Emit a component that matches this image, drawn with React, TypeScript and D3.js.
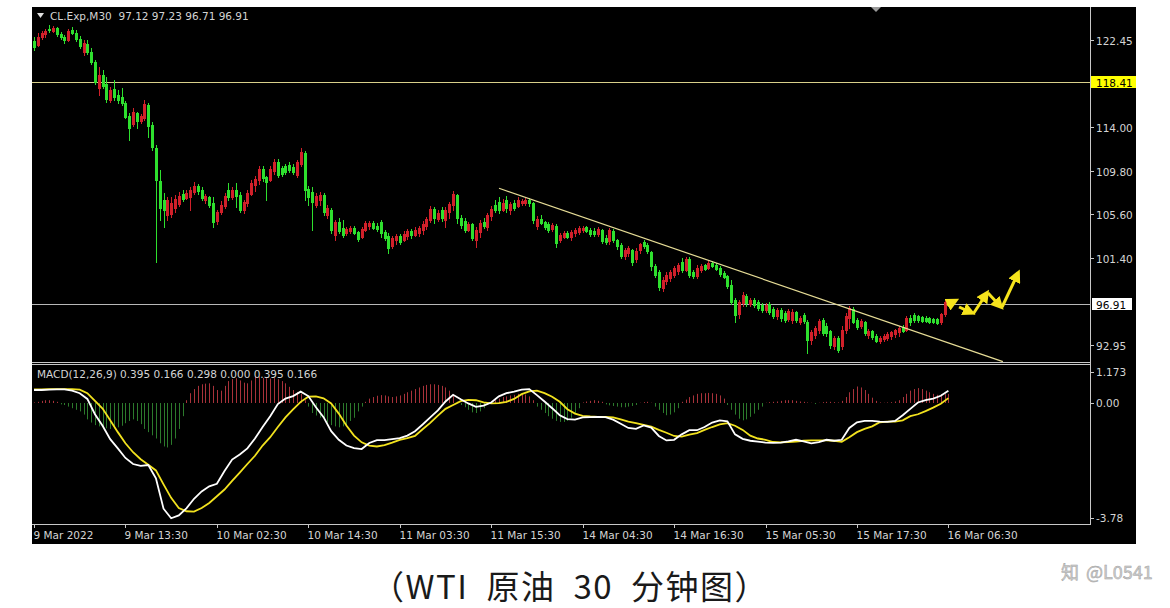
import React from 'react';
import * as d3 from 'd3';

// ---------- DATA (CL.Exp, M30) ----------
const OPEN = [
  122.35,121.97,122.74,123.03,123.51,123.32,123.61,123.03,122.74,122.45,
  123.42,123.13,122.55,121.29,122.06,121.29,120.32,117.81,119.07,118.19,
  116.65,117.71,117.13,116.94,116.36,115.10,114.33,115.39,114.62,114.91,
  116.16,114.23,112.01,108.81,106.98,105.53,105.62,106.21,106.59,107.56,
  107.17,107.27,107.75,108.33,107.94,106.98,107.27,106.69,104.95,105.82,
  106.40,107.94,107.27,107.94,107.46,106.01,106.69,107.56,108.43,108.91,
  109.98,109.20,108.91,109.78,110.65,110.07,110.26,110.36,110.17,109.39,
  110.46,111.52,108.04,107.75,106.49,106.98,107.46,105.53,106.01,103.59,
  104.85,104.27,103.79,103.98,104.27,103.88,103.40,104.08,104.46,104.75,
  104.46,104.85,103.88,103.50,102.53,103.11,103.50,103.11,103.50,103.98,
  103.59,103.79,104.08,104.46,105.04,106.11,105.14,106.01,105.04,105.82,
  106.49,107.46,105.24,104.95,104.08,104.66,103.11,103.88,104.85,104.37,
  105.43,106.49,106.78,106.01,106.98,106.01,106.69,106.40,106.69,106.69,
  106.98,106.69,104.46,105.14,104.85,104.66,104.17,104.46,103.11,103.40,
  103.79,103.40,103.79,103.88,104.08,104.37,104.08,103.98,103.69,104.08,
  103.30,103.01,103.98,103.11,102.62,101.56,101.85,102.14,101.27,102.14,
  102.91,102.62,101.95,100.59,100.01,98.47,99.14,99.43,99.72,100.11,
  100.98,100.21,101.27,100.01,99.62,100.21,100.69,100.40,100.88,100.69,
  100.40,99.91,99.62,98.76,97.31,95.95,97.02,97.69,96.92,97.31,
  97.11,96.82,96.34,96.92,96.44,95.76,96.34,96.05,95.47,95.37,
  96.15,95.18,95.86,95.18,93.44,93.92,94.40,95.37,94.79,94.31,
  92.86,93.63,92.86,94.40,95.57,96.44,95.37,94.79,95.18,93.92,
  94.31,93.82,93.34,93.53,93.63,93.82,94.02,94.21,94.69,94.40,
  95.57,95.86,95.76,95.66,95.57,95.57,95.47,95.47,95.18,95.95,
  97.12
];
const HIGH = [
  122.74,123.13,123.32,123.51,123.90,123.80,123.71,123.22,122.93,123.51,
  123.71,123.42,122.84,122.45,122.45,121.68,120.52,119.84,119.55,118.87,
  117.90,118.58,117.61,117.81,116.55,115.39,115.87,115.49,115.29,116.65,
  116.36,114.52,112.30,109.88,107.66,107.27,107.27,107.46,107.75,107.94,
  107.94,108.23,108.72,108.52,108.23,107.56,107.36,107.27,106.01,106.88,
  107.66,108.62,108.23,108.62,107.75,106.98,107.94,108.91,109.30,110.26,
  110.26,109.30,110.26,110.94,110.94,110.26,110.46,110.65,110.46,110.84,
  112.01,111.71,108.33,108.23,107.66,107.75,107.66,106.49,106.21,105.04,
  105.24,105.04,104.37,104.46,104.46,103.98,104.37,104.95,104.95,104.95,
  104.75,105.04,104.08,103.79,103.50,103.69,103.69,103.98,104.17,104.17,
  104.37,104.46,104.95,105.33,106.40,106.30,106.01,106.30,106.30,106.78,
  107.85,107.56,105.53,105.24,104.85,104.75,104.37,105.04,105.24,105.72,
  106.40,106.98,107.27,107.07,107.36,106.78,106.98,107.27,107.07,107.17,
  107.17,106.78,105.43,105.53,104.95,104.85,104.75,104.66,103.79,103.98,
  103.98,104.08,104.27,104.46,104.46,104.46,104.27,104.27,104.37,104.17,
  103.59,104.27,104.17,103.21,102.82,102.33,102.53,102.24,102.33,102.82,
  103.11,102.82,102.04,100.79,100.21,99.53,100.01,100.21,100.59,100.88,
  101.37,101.46,101.46,100.21,100.69,100.79,100.79,101.08,101.08,100.88,
  100.59,100.11,99.72,99.24,97.50,97.31,98.08,97.89,97.50,97.50,
  97.31,97.02,97.02,97.11,96.63,96.53,96.53,96.24,96.44,96.44,
  96.24,95.76,96.05,95.37,94.40,94.79,95.47,95.57,95.08,94.40,
  93.82,93.82,94.79,96.05,96.73,96.63,95.57,95.47,95.28,94.50,
  94.40,94.02,93.82,94.02,94.21,94.31,94.50,94.79,94.89,95.76,
  95.86,96.05,95.86,95.76,95.76,95.66,95.57,95.57,96.05,97.31,
  97.23
];
const LOW = [
  121.48,121.87,122.55,122.74,123.22,123.22,122.84,122.55,122.16,122.35,
  123.03,122.35,121.68,121.00,121.10,120.13,118.19,117.13,117.81,116.45,
  116.45,116.65,116.36,116.16,114.91,112.78,114.13,113.94,114.42,114.71,
  113.07,111.81,100.98,105.04,104.37,105.04,105.33,105.82,106.40,106.88,
  107.07,106.01,107.56,107.56,106.98,106.69,106.30,104.37,104.66,105.62,
  106.21,106.98,107.07,106.30,105.82,105.72,106.40,107.46,107.85,108.52,
  108.81,106.98,108.81,109.49,109.20,109.30,109.49,109.69,109.49,109.20,
  110.26,106.98,106.49,104.08,106.30,106.49,105.53,105.24,103.79,103.11,
  103.79,103.40,103.59,103.79,103.69,103.01,103.30,103.98,104.17,104.17,
  103.98,103.40,103.11,101.85,102.33,102.72,102.72,103.01,103.21,103.30,
  103.50,103.50,103.69,104.17,104.85,104.75,104.95,104.95,104.37,105.24,
  106.01,104.75,104.27,103.88,103.98,103.11,102.43,103.40,104.27,104.08,
  105.04,105.82,105.72,105.91,105.82,105.62,106.01,106.30,106.49,106.49,
  106.40,104.75,104.17,104.66,104.17,103.88,103.98,102.43,102.91,103.30,
  103.30,103.11,103.50,103.69,103.88,103.88,103.50,103.50,103.50,102.82,
  102.72,102.72,102.91,102.24,101.37,101.27,101.56,100.69,100.98,101.85,
  102.33,101.85,100.21,99.53,98.27,98.18,98.85,99.14,99.53,99.82,
  100.01,100.11,99.53,99.43,99.43,100.01,100.21,100.30,100.50,100.21,
  99.62,99.43,98.47,96.92,95.18,95.57,96.73,96.73,96.73,96.63,
  96.34,96.15,96.15,95.95,95.57,95.47,95.28,95.18,95.28,95.08,
  95.18,94.99,95.08,92.18,93.05,93.63,94.11,93.92,93.82,92.66,
  92.57,92.28,92.57,94.11,94.60,95.08,94.50,94.60,93.92,93.63,
  93.53,93.24,93.15,93.34,93.44,93.53,93.73,93.82,94.21,94.31,
  94.89,95.18,95.18,95.18,95.18,95.08,95.08,94.99,94.99,95.76,
  96.71
];
const CLOSE = [
  121.77,122.74,123.13,123.32,123.42,123.61,123.03,122.74,122.45,123.32,
  123.13,122.55,121.87,122.16,121.29,120.32,118.39,119.07,118.00,116.74,
  117.61,116.94,116.65,116.36,115.00,113.94,115.49,114.62,115.10,116.26,
  114.13,112.10,108.91,106.21,106.01,106.98,106.69,107.07,107.36,107.07,
  107.66,107.94,108.33,107.85,107.17,107.36,106.49,104.85,105.82,106.49,
  107.36,107.27,107.94,107.36,106.01,106.78,107.66,108.62,109.01,109.98,
  109.10,108.72,109.98,110.65,109.39,109.49,109.69,109.88,109.69,110.65,
  111.62,107.94,107.27,106.78,107.36,107.46,105.82,106.21,104.08,104.85,
  103.98,103.59,104.17,104.27,103.79,103.21,104.17,104.75,104.75,104.27,
  104.17,103.79,103.30,102.33,103.30,103.50,102.91,103.69,103.98,103.59,
  104.08,104.27,104.66,105.14,106.11,105.24,105.72,105.24,106.01,106.59,
  107.56,105.24,104.56,104.08,104.66,103.30,104.08,104.75,104.46,105.53,
  106.11,106.01,106.01,106.69,106.21,106.59,106.21,106.98,106.88,106.98,
  106.69,105.04,105.14,104.75,104.37,104.08,104.56,102.82,103.59,103.79,
  103.40,103.88,104.08,104.27,104.27,103.98,103.69,103.69,104.17,103.01,
  102.91,104.08,103.11,102.53,101.56,102.14,102.33,100.98,102.04,102.72,
  102.53,102.04,100.59,99.72,98.56,99.24,99.72,100.01,100.40,100.69,
  100.21,101.27,99.72,99.62,100.40,100.59,100.30,100.88,100.59,100.30,
  99.82,99.53,98.66,97.11,95.86,97.11,97.79,97.02,97.31,96.82,
  96.53,96.34,96.82,96.15,95.76,96.34,95.57,95.37,96.24,96.15,
  95.37,95.57,95.28,93.44,94.21,94.60,95.28,94.11,94.11,92.95,
  93.63,92.47,94.40,95.76,96.53,95.18,94.69,95.28,94.11,94.31,
  93.73,93.34,93.63,93.82,94.02,94.21,94.40,94.60,94.31,95.57,
  95.18,95.37,95.37,95.28,95.28,95.18,95.18,95.08,95.95,97.11,
  96.91
];

// MACD main line and signal line, read every second bar (bar = 2 * index)
const MACD_LINE = [
  0.42,0.42,0.43,0.44,0.44,0.40,0.32,0.14,-0.34,-0.70,
  -1.12,-1.41,-1.71,-1.90,-1.96,-1.93,-2.35,-3.30,-3.60,-3.51,
  -3.29,-2.99,-2.76,-2.60,-2.52,-2.12,-1.76,-1.60,-1.41,-1.10,
  -0.74,-0.40,-0.02,0.15,0.23,0.37,0.23,-0.12,-0.43,-0.87,
  -1.14,-1.32,-1.40,-1.43,-1.24,-1.15,-1.15,-1.12,-1.09,-1.01,
  -0.87,-0.66,-0.44,-0.22,0.06,0.27,0.13,0.00,-0.11,-0.07,
  0.03,0.22,0.32,0.37,0.43,0.45,0.26,0.06,-0.15,-0.37,
  -0.49,-0.51,-0.44,-0.43,-0.42,-0.43,-0.51,-0.64,-0.77,-0.80,
  -0.69,-0.76,-1.02,-1.16,-1.14,-0.97,-0.84,-0.84,-0.74,-0.60,
  -0.53,-0.56,-0.97,-1.11,-1.17,-1.20,-1.23,-1.24,-1.23,-1.19,
  -1.14,-1.19,-1.25,-1.21,-1.14,-1.17,-1.14,-0.77,-0.59,-0.55,
  -0.55,-0.57,-0.58,-0.55,-0.37,-0.17,0.03,0.10,0.15,0.24,
  0.395
];
const SIGNAL_LINE = [
  0.44,0.44,0.45,0.45,0.45,0.45,0.43,0.32,0.08,-0.16,
  -0.53,-0.90,-1.25,-1.53,-1.75,-1.92,-2.10,-2.54,-2.96,-3.28,
  -3.38,-3.39,-3.28,-3.12,-2.91,-2.70,-2.43,-2.17,-1.90,-1.64,
  -1.32,-1.06,-0.74,-0.44,-0.19,0.05,0.21,0.22,0.16,0.00,
  -0.32,-0.69,-1.01,-1.22,-1.32,-1.35,-1.31,-1.23,-1.14,-1.09,
  -1.02,-0.81,-0.61,-0.38,-0.17,-0.05,0.07,0.11,0.10,0.03,
  0.00,0.01,0.05,0.14,0.29,0.38,0.40,0.32,0.21,0.05,
  -0.18,-0.32,-0.39,-0.41,-0.42,-0.42,-0.44,-0.50,-0.57,-0.62,
  -0.67,-0.73,-0.83,-0.92,-1.02,-1.04,-0.98,-0.93,-0.83,-0.74,
  -0.66,-0.62,-0.70,-0.83,-1.01,-1.10,-1.14,-1.21,-1.22,-1.21,
  -1.20,-1.17,-1.16,-1.16,-1.16,-1.17,-1.20,-1.06,-0.90,-0.80,
  -0.72,-0.59,-0.57,-0.57,-0.53,-0.40,-0.34,-0.24,-0.13,-0.01,
  0.166
];
// MACD histogram, one value per bar
const MACD_HIST = [
  0.03,0.05,0.08,0.10,0.10,0.08,0.05,-0.03,-0.05,-0.10,
  -0.15,-0.20,-0.25,-0.35,-0.50,-0.60,-0.68,-0.72,-0.75,-0.78,
  -0.80,-0.78,-0.75,-0.70,-0.62,-0.55,-0.50,-0.55,-0.65,-0.80,
  -0.90,-1.00,-1.10,-1.25,-1.35,-1.38,-1.30,-1.10,-0.80,-0.40,
  0.10,0.32,0.45,0.55,0.60,0.62,0.63,0.55,0.42,0.40,
  0.55,0.70,0.76,0.79,0.72,0.65,0.63,0.72,0.85,0.85,
  0.80,0.79,0.78,0.79,0.76,0.70,0.63,0.52,0.42,0.36,
  0.30,0.10,-0.10,-0.30,-0.38,-0.45,-0.50,-0.60,-0.68,-0.72,
  -0.75,-0.72,-0.68,-0.55,-0.45,-0.25,-0.10,0.05,0.15,0.20,
  0.24,0.26,0.25,0.22,0.20,0.22,0.25,0.30,0.35,0.40,
  0.45,0.50,0.55,0.58,0.60,0.60,0.58,0.55,0.50,0.40,
  0.25,0.05,-0.05,-0.12,-0.20,-0.28,-0.30,-0.25,-0.15,-0.05,
  0.05,0.10,0.15,0.20,0.22,0.25,0.27,0.30,0.30,0.28,
  0.22,0.10,-0.10,-0.20,-0.30,-0.40,-0.48,-0.55,-0.58,-0.58,
  -0.55,-0.45,-0.30,-0.15,0.03,0.06,0.08,0.10,0.08,0.05,
  -0.03,-0.06,-0.08,-0.10,-0.12,-0.12,-0.10,-0.08,-0.05,0.02,
  0.04,0.05,0.02,-0.10,-0.20,-0.30,-0.37,-0.35,-0.28,-0.15,
  0.05,0.12,0.20,0.25,0.30,0.32,0.32,0.33,0.32,0.30,
  0.25,0.15,-0.05,-0.20,-0.35,-0.48,-0.53,-0.50,-0.42,-0.32,
  -0.20,-0.10,0.02,0.04,0.05,0.06,0.08,0.10,0.10,0.10,
  0.08,0.06,0.05,0.03,0.02,-0.02,0.02,0.04,0.05,0.05,
  0.04,0.03,0.08,0.20,0.35,0.45,0.53,0.50,0.42,0.30,
  0.18,0.08,0.03,0.02,0.03,0.04,0.06,0.10,0.20,0.30,
  0.40,0.45,0.48,0.45,0.40,0.35,0.30,0.27,0.28,0.29,
  0.298
];

const PRICE_TICKS = [122.45, 114.0, 109.8, 105.6, 101.4, 92.95];
const MACD_TICKS = [1.173, 0.0, -3.78];
const MACD_TICK_LABELS = ['1.173', '0.00', '-3.78'];
const TIME_LABELS = [
  '9 Mar 2022', '9 Mar 13:30', '10 Mar 02:30', '10 Mar 14:30', '11 Mar 03:30',
  '11 Mar 15:30', '14 Mar 04:30', '14 Mar 16:30', '15 Mar 05:30', '15 Mar 17:30', '16 Mar 06:30'
];
const TIME_LABEL_BARS = [0, 24, 48, 72, 96, 120, 144, 168, 192, 216, 240];
const LEVEL_PRICE = 118.41;
const BID_PRICE = 96.91;
const HEADER = 'CL.Exp,M30  97.12 97.23 96.71 96.91';
const MACD_HEADER = 'MACD(12,26,9) 0.395 0.166 0.298 0.000 0.395 0.166';
const CAPTION = '（WTI\u2002原油\u200230\u2002分钟图）';
const WATERMARK_ICON = '知';
const WATERMARK = '@L0541';
// trend line: [bar, price] endpoints
const TREND = [[122.05, 108.11], [254.3, 91.34]];
// projected path arrows: [bar1, price1, bar2, price2]
const ARROWS = [
  [239.6, 96.82, 241.9, 97.25],
  [242.8, 96.63, 246.2, 96.05],
  [246.5, 95.95, 250.1, 97.98],
  [250.4, 97.98, 253.8, 96.63],
  [254.1, 96.63, 258.3, 99.92]
];

const RED = '#d1202a';
const GREEN = '#2ee02e';
const HIST_RED = '#a8323a';
const HIST_GREEN = '#2c7a2c';
const TXT = '#d4d4d4';
const FONT = "'DejaVu Sans', Tahoma, sans-serif";

export default function App() {
  const xScale = d3.scaleLinear().domain([0, 240]).range([34, 34 + 240 * 3.81]);
  const yPrice = d3.scaleLinear().domain([91.31, 125.64]).range([362, 7]);
  const yMacd = d3.scaleLinear().domain([-3.78, 1.173]).range([524, 366]);
  const bx = (i: number) => Math.round(xScale(i));

  const macdPath = d3.line<number>().x((_, k) => xScale(k * 2)).y((d) => yMacd(d))(MACD_LINE) || '';
  const sigPath = d3.line<number>().x((_, k) => xScale(k * 2)).y((d) => yMacd(d))(SIGNAL_LINE) || '';
  const zeroY = Math.round(yMacd(0));
  const levelY = Math.round(yPrice(LEVEL_PRICE)) + 0.5;
  const bidY = Math.round(yPrice(BID_PRICE)) + 0.5;

  return (
    <svg width={1170} height={608} style={{ position: 'absolute', left: 0, top: 0 }} fontFamily={FONT}>
      <defs>
        <clipPath id="mainClip"><rect x={32} y={7} width={1058} height={355} /></clipPath>
        <clipPath id="macdClip"><rect x={32} y={365} width={1058} height={159} /></clipPath>
        <marker id="ah" viewBox="0 0 10 10" refX="7" refY="5" markerWidth="13" markerHeight="13" markerUnits="userSpaceOnUse" orient="auto">
          <path d="M0,0 L10,5 L0,10 z" fill="#f6e31c" />
        </marker>
      </defs>
      <rect x={0} y={0} width={1170} height={608} fill="#ffffff" />
      <rect x={32} y={7} width={1104} height={537} fill="#000000" />

      {/* main panel */}
      <g clipPath="url(#mainClip)">
        <line x1={32} x2={1090} y1={levelY} y2={levelY} stroke="#d9d08a" strokeWidth={1} />
        <line x1={32} x2={1090} y1={bidY} y2={bidY} stroke="#b8b8b8" strokeWidth={1} />
        {CLOSE.map((c, i) => {
          const o = OPEN[i];
          const col = c >= o ? RED : GREEN;
          const X = bx(i);
          const yO = yPrice(o), yC = yPrice(c);
          const top = Math.round(Math.min(yO, yC));
          const bot = Math.round(Math.max(yO, yC));
          return (
            <g key={i}>
              <line x1={X + 0.5} x2={X + 0.5} y1={Math.round(yPrice(HIGH[i]))} y2={Math.round(yPrice(LOW[i])) + 1} stroke={col} strokeWidth={1} />
              <rect x={X - 1} y={top} width={3} height={Math.max(1, bot - top + 1)} fill={col} />
            </g>
          );
        })}
        <line x1={xScale(TREND[0][0])} y1={yPrice(TREND[0][1])} x2={xScale(TREND[1][0])} y2={yPrice(TREND[1][1])} stroke="#e6dc96" strokeWidth={1.2} />
        {ARROWS.map((a, k) => (
          <line key={k} x1={xScale(a[0])} y1={yPrice(a[1])} x2={xScale(a[2])} y2={yPrice(a[3])} stroke="#f6e31c" strokeWidth={3} markerEnd="url(#ah)" />
        ))}
      </g>

      {/* header */}
      <path d="M37,13 L44,13 L40.5,18 z" fill="#e0e0e0" />
      <text x={50} y={20} fontSize={10.5} fill={TXT} xmlSpace="preserve">{HEADER}</text>
      <path d="M871,7 L881,7 L876,12 z" fill="#9a9a9a" />

      {/* panel borders */}
      <line x1={32} x2={1090} y1={362.5} y2={362.5} stroke="#c8c8c8" />
      <line x1={32} x2={1090} y1={364.5} y2={364.5} stroke="#c8c8c8" />
      <line x1={1090.5} x2={1090.5} y1={7} y2={525} stroke="#c8c8c8" />
      <line x1={32} x2={1091} y1={524.5} y2={524.5} stroke="#c8c8c8" />

      {/* price axis */}
      {PRICE_TICKS.map((p) => {
        const y = Math.round(yPrice(p)) + 0.5;
        return (
          <g key={p}>
            <line x1={1091} x2={1094} y1={y} y2={y} stroke="#c8c8c8" />
            <text x={1096} y={y + 4} fontSize={10.5} fill={TXT}>{d3.format('.2f')(p)}</text>
          </g>
        );
      })}
      <rect x={1091} y={levelY - 6.5} width={45} height={12} fill="#ffff00" />
      <text x={1096} y={levelY + 4} fontSize={10.5} fill="#000">{d3.format('.2f')(LEVEL_PRICE)}</text>
      <rect x={1092} y={bidY - 6.5} width={40} height={12} fill="#ffffff" />
      <text x={1096} y={bidY + 4} fontSize={10.5} fill="#000">{d3.format('.2f')(BID_PRICE)}</text>

      {/* MACD panel */}
      <g clipPath="url(#macdClip)">
        {MACD_HIST.map((v, i) => {
          const X = bx(i) + 0.5;
          return <line key={i} x1={X} x2={X} y1={zeroY} y2={yMacd(v)} stroke={v >= 0 ? HIST_RED : HIST_GREEN} strokeWidth={1} />;
        })}
        <path d={sigPath} fill="none" stroke="#f2e21e" strokeWidth={1.8} />
        <path d={macdPath} fill="none" stroke="#ffffff" strokeWidth={1.8} />
      </g>
      <text x={37} y={378} fontSize={10.5} fill={TXT}>{MACD_HEADER}</text>
      {MACD_TICKS.map((v, k) => {
        const yy = k === 0 ? 372 : k === 2 ? 518 : yMacd(v);
        return (
          <g key={k}>
            <line x1={1091} x2={1094} y1={Math.round(yy) + 0.5} y2={Math.round(yy) + 0.5} stroke="#c8c8c8" />
            <text x={1096} y={yy + 4} fontSize={10.5} fill={TXT}>{MACD_TICK_LABELS[k]}</text>
          </g>
        );
      })}

      {/* time axis */}
      {TIME_LABEL_BARS.map((b, k) => {
        const X = bx(b) + 0.5;
        return (
          <g key={k}>
            <line x1={X} x2={X} y1={525} y2={528} stroke="#c8c8c8" />
            <text x={X - 1} y={539} fontSize={10.5} fill={TXT}>{TIME_LABELS[k]}</text>
          </g>
        );
      })}

      {/* caption */}
      <text x={570} y={599} textAnchor="middle" fontSize={33} letterSpacing={1.5} fill="#1a1a1a" fontFamily="'Noto Sans CJK SC', sans-serif">{CAPTION}</text>
      <text x={1061} y={579} fontSize={18} fill="#cfcfcf" stroke="#a0a0a0" strokeWidth={0.5} fontFamily="'Noto Sans CJK SC', sans-serif">{WATERMARK_ICON}</text>
      <text x={1086} y={579} fontSize={18} fill="#cfcfcf" stroke="#a0a0a0" strokeWidth={0.5} fontFamily="'Noto Sans CJK SC', sans-serif">{WATERMARK}</text>
    </svg>
  );
}
